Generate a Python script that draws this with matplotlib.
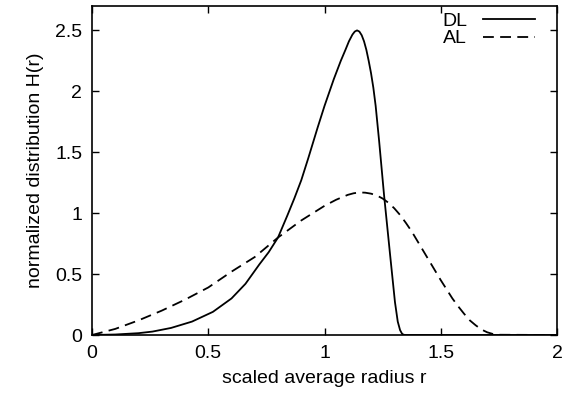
import numpy as np
import matplotlib
matplotlib.use("Agg")
from matplotlib import pyplot as plt

# values
dl_r = [0, 0.1, 0.2, 0.26, 0.34, 0.43, 0.52, 0.6, 0.66, 0.72, 0.76, 0.8, 0.84, 0.87,
        0.9, 0.93, 0.97, 1.0, 1.04, 1.07, 1.09, 1.105, 1.12, 1.13, 1.14, 1.15,
        1.16, 1.17, 1.18, 1.19, 1.2, 1.21, 1.22, 1.235, 1.256, 1.282, 1.303,
        1.315, 1.325, 1.333, 1.34, 1.35, 2.0]
dl_h = [0, 0.004, 0.015, 0.028, 0.058, 0.11, 0.19, 0.30, 0.42, 0.58, 0.68, 0.80, 0.98, 1.12,
        1.27, 1.45, 1.70, 1.88, 2.10, 2.25, 2.34, 2.41, 2.465, 2.49, 2.50, 2.49,
        2.46, 2.41, 2.34, 2.25, 2.15, 2.03, 1.88, 1.59, 1.15, 0.66, 0.27,
        0.11, 0.04, 0.012, 0.002, 0, 0]

al_r = [0, 0.1, 0.2, 0.3, 0.4, 0.5, 0.6, 0.7, 0.8, 0.9, 0.95, 1.0, 1.05, 1.1, 1.125,
        1.15, 1.175, 1.2, 1.225, 1.25, 1.275, 1.3, 1.325, 1.35, 1.375, 1.4, 1.425,
        1.45, 1.475, 1.5, 1.525, 1.55, 1.575, 1.6, 1.625, 1.65, 1.675, 1.7, 1.725,
        1.75, 2.0]
al_h = [0, 0.05, 0.12, 0.20, 0.29, 0.39, 0.52, 0.64, 0.80, 0.94, 1.00, 1.06, 1.11, 1.15, 1.163,
        1.17, 1.168, 1.16, 1.145, 1.12, 1.085, 1.04, 0.985, 0.92, 0.85, 0.77, 0.69,
        0.61, 0.53, 0.45, 0.375, 0.30, 0.235, 0.175, 0.12, 0.08, 0.045, 0.022, 0.008,
        0.002, 0]

x_ticks = [0, 0.5, 1, 1.5, 2]
x_labels = ["0", "0.5", "1", "1.5", "2"]
y_ticks = [0, 0.5, 1, 1.5, 2, 2.5]
y_labels = ["0", "0.5", "1", "1.5", "2", "2.5"]

plt.rcParams['font.family'] = ['Liberation Sans', 'DejaVu Sans']

fig = plt.figure(figsize=(5.74, 4.0), dpi=100)
ax = fig.add_axes([0.1603, 0.1625, 0.9704 - 0.1603, 0.985 - 0.1625])

ax.plot(dl_r, dl_h, color='black', lw=1.3, label='DL')
ax.plot(al_r, al_h, color='black', lw=1.3, dashes=(6, 3.5), label='AL')

ax.set_xlim(0, 2)
ax.set_ylim(0, 2.7)
ax.set_xticks(x_ticks)
ax.set_xticklabels(x_labels)
ax.set_yticks(y_ticks)
ax.set_yticklabels(y_labels)
ax.tick_params(direction='in', length=5, width=1, labelsize=14,
               top=True, right=True, pad=7)
for s in ax.spines.values():
  s.set_linewidth(1.2)

ax.set_xlabel('scaled average radius r', fontsize=14, labelpad=6)
ax.set_ylabel('normalized distribution H(r)', fontsize=14, labelpad=8)

ax.legend(loc='upper right', frameon=False, markerfirst=False, fontsize=14,
          handlelength=2.7, handletextpad=0.8, labelspacing=0.0,
          borderaxespad=0.0, bbox_to_anchor=(0.97, 1.005))

fig.savefig('out.png', dpi=100)
